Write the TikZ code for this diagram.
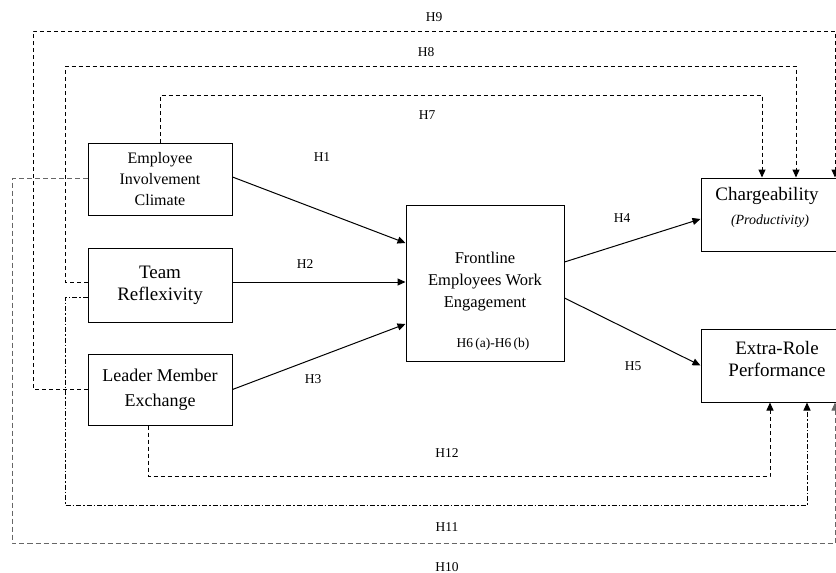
\documentclass[tikz,border=0pt]{standalone}
\usepackage{fontspec}
\setmainfont{Liberation Serif}
\usetikzlibrary{arrows.meta,calc}
\begin{document}
\begin{tikzpicture}[x=1pt,y=-1pt,
  box/.style={draw,line width=1pt,align=center,inner sep=0pt},
  lbl/.style={font=\fontsize{13.5}{15}\selectfont,inner sep=1pt},
  sol/.style={line width=1pt,-{Triangle[length=8pt,width=7pt]}},
  dep/.style={line width=1pt,dash pattern=on 4pt off 3pt,-{Triangle[length=8pt,width=7pt]}},
  depdot/.style={line width=1pt,dash pattern=on 5pt off 2pt on 1.5pt off 2pt,-{Triangle[length=8pt,width=7pt]}},
  deplight/.style={line width=0.9pt,black!60,dash pattern=on 5pt off 3pt,-{Triangle[length=8pt,width=7pt]}}]
\useasboundingbox (0,0) rectangle (836,573);
\clip (0,0) rectangle (836,573);
\fill[white] (0,0) rectangle (836,573);

% boxes
\node[box,minimum width=144pt,minimum height=72pt,font=\fontsize{16}{21}\selectfont] (EIC) at (160,179) {Employee\\Involvement\\Climate};
\node[box,minimum width=144pt,minimum height=74pt,font=\fontsize{19}{22}\selectfont] (TR) at (160,285) {Team\\Reflexivity};
\node[box,minimum width=144pt,minimum height=71pt,font=\fontsize{18}{25}\selectfont] (LME) at (160,389.5) {Leader Member\\Exchange};
\node[box,minimum width=158pt,minimum height=156pt] (FEWE) at (485,283) {};
\node[font=\fontsize{16.5}{22}\selectfont,align=center] (FEWEt) at (485,282) {Frontline\\Employees Work\\Engagement};
\node[font=\fontsize{13.5}{15}\selectfont] (H6) at (493,344) {H6\,(a)-H6\,(b)};
\node[box,minimum width=144pt,minimum height=73pt] (CH) at (773,214.5) {};
\node[font=\fontsize{19}{22}\selectfont,inner sep=0pt] (CHt) at (767,196) {Chargeability};
\node[font=\fontsize{14}{16}\selectfont\itshape,inner sep=0pt] (CHp) at (770,221) {(Productivity)};
\node[box,minimum width=144pt,minimum height=73pt] (ER) at (773,365.5) {};
\node[font=\fontsize{19}{22}\selectfont,align=center] (ERt) at (777,359) {Extra-Role\\Performance};

% solid paths
\draw[sol] ([yshift=2pt]EIC.east) -- ([yshift=40pt]FEWE.west);
\draw[sol] ([yshift=3pt]TR.east) -- ([yshift=3pt]TR.east -| FEWE.west);
\draw[sol] (LME.east) -- ([yshift=-41pt]FEWE.west);
\draw[sol] ([yshift=21pt]FEWE.east) -- ([yshift=-4.5pt]CH.west);
\draw[sol] ([yshift=-15pt]FEWE.east) -- (CH.west |- ER.west);

% corner coordinates
\coordinate (h7) at (762,95);
\coordinate (h8l) at (65,66);
\coordinate (h8) at (796,66);
\coordinate (h9l) at (33,31);
\coordinate (h9) at (835,31);
\coordinate (h10l) at (12,543);
\coordinate (h10) at (835,543);
\coordinate (h11l) at (65,505);
\coordinate (h11) at (807,505);
\coordinate (h12) at (770,476);

% dashed paths
\draw[dep] (EIC.north) |- (h7) -- (h7 |- CH.north);
\draw[dep] ([yshift=3pt]TR.west) -| (h8l) -- (h8) -- (h8 |- CH.north);
\draw[dep] (LME.west) -| (h9l) -- (h9) -- (h9 |- CH.north);
\draw[deplight] ([yshift=1pt]EIC.west) -| (h10l) -- (h10) -- (h10 |- ER.south);
\draw[depdot] ([yshift=-12pt]TR.west) -| (h11l) -- (h11) -- (h11 |- ER.south);
\draw[dep] ([xshift=-12pt]LME.south) |- (h12) -- (h12 |- ER.south);

% labels
\node[lbl] (L9) at (434,17) {H9};
\node[lbl] (L8) at (426,52) {H8};
\node[lbl] (L7) at (427,115) {H7};
\node[lbl] (L1) at (322,157) {H1};
\node[lbl] (L2) at (305,264) {H2};
\node[lbl] (L3) at (313,379) {H3};
\node[lbl] (L4) at (622,218) {H4};
\node[lbl] (L5) at (633,366) {H5};
\node[lbl] (L12) at (447,453) {H12};
\node[lbl] (L11) at (447,527) {H11};
\node[lbl] (L10) at (447,567) {H10};
\end{tikzpicture}
\end{document}
